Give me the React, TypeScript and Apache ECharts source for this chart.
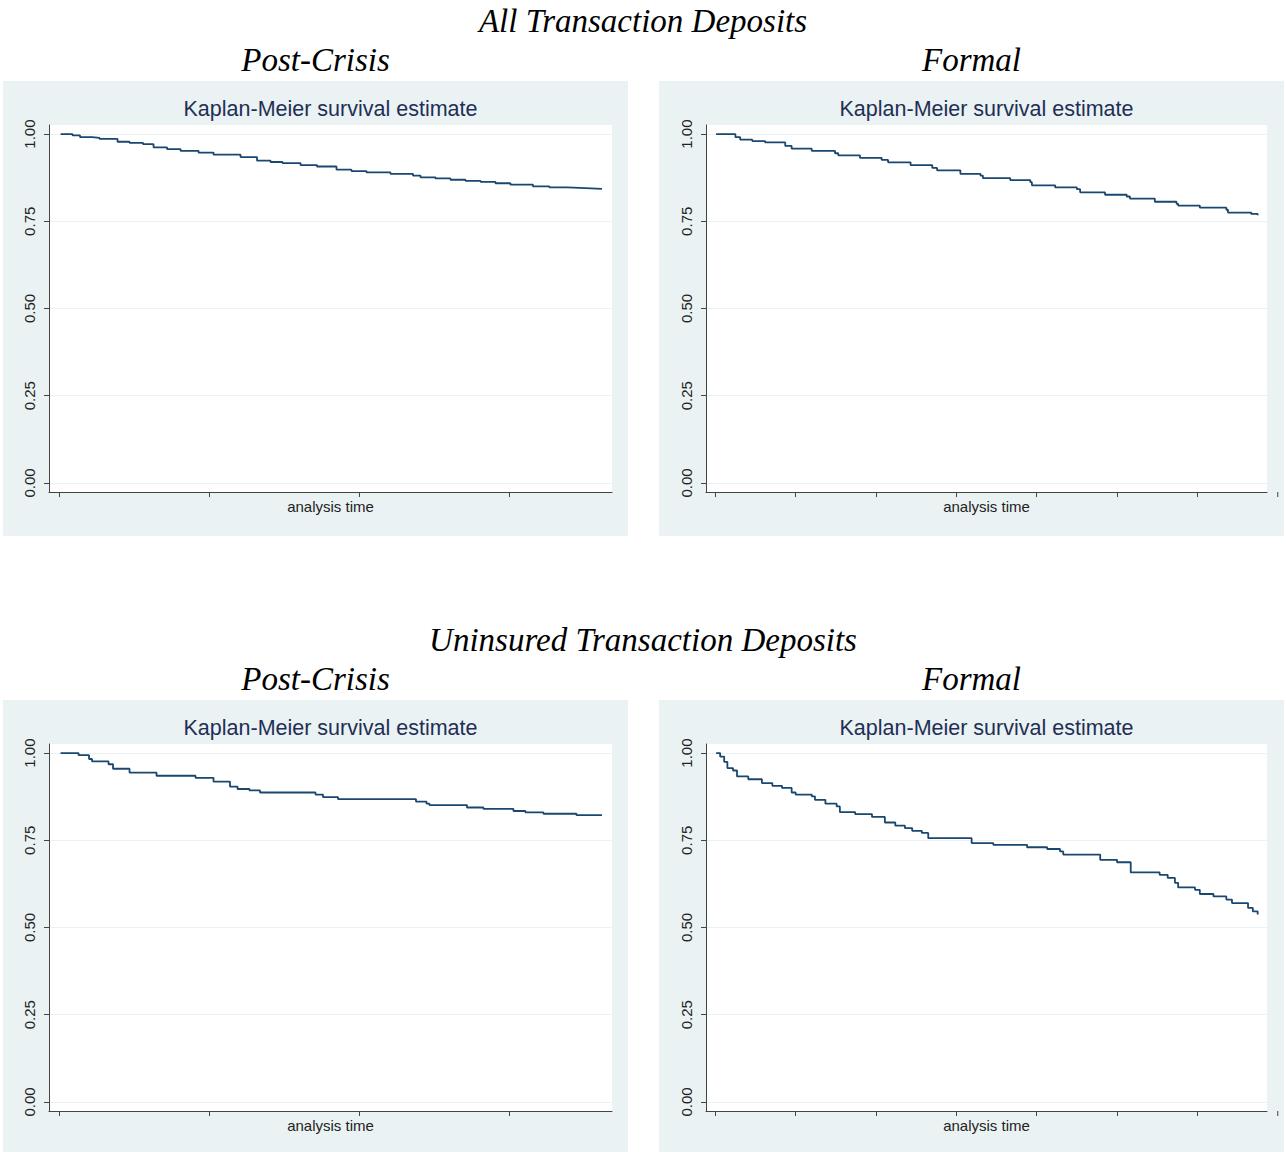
import React, { useEffect, useRef } from "react";
import * as echarts from "echarts";

// ---------- texts ----------
const rowTitles = ["All Transaction Deposits", "Uninsured Transaction Deposits"];
const colTitles = ["Post-Crisis", "Formal"];
const panelTitle = "Kaplan-Meier survival estimate";
const xAxisName = "analysis time";

// ---------- ticks ----------
const yTicks = [0, 0.25, 0.5, 0.75, 1];
const postCrisisTicks = [0, 100, 200, 300];
const formalTicks = [0, 100, 200, 300, 400, 500, 600, 700];

// ---------- data (analysis time, survival) ----------
const allPostTime = [1, 9, 14, 22, 27, 39, 47, 56, 63, 72, 81, 93, 103, 121, 132, 141, 149, 161, 172, 185, 195, 205, 221, 236, 241, 251, 261, 271, 281, 291, 301, 316, 327, 339, 351, 362];
const allPostSurv = [1.0, 0.996, 0.991, 0.989, 0.986, 0.978, 0.975, 0.971, 0.962, 0.957, 0.952, 0.947, 0.941, 0.934, 0.924, 0.92, 0.917, 0.911, 0.907, 0.898, 0.894, 0.89, 0.886, 0.881, 0.876, 0.873, 0.869, 0.866, 0.863, 0.859, 0.855, 0.85, 0.847, 0.845, 0.843, 0.842];

const allFormalTime = [1, 25, 31, 46, 62, 87, 95, 120, 149, 153, 180, 207, 215, 243, 270, 276, 305, 330, 333, 367, 392, 394, 423, 450, 454, 485, 512, 516, 547, 574, 576, 603, 636, 638, 667, 675];
const allFormalSurv = [1.0, 0.991, 0.984, 0.98, 0.976, 0.966, 0.958, 0.952, 0.945, 0.939, 0.932, 0.926, 0.919, 0.911, 0.903, 0.896, 0.886, 0.881, 0.874, 0.868, 0.862, 0.853, 0.847, 0.842, 0.833, 0.826, 0.821, 0.815, 0.806, 0.8, 0.795, 0.789, 0.783, 0.775, 0.771, 0.767];

const uninsPostTime = [1, 13, 20, 22, 33, 36, 47, 65, 91, 103, 114, 119, 127, 134, 171, 176, 186, 238, 245, 247, 272, 283, 303, 311, 323, 345, 362];
const uninsPostSurv = [1.0, 0.994, 0.983, 0.976, 0.968, 0.955, 0.944, 0.935, 0.929, 0.918, 0.904, 0.897, 0.893, 0.887, 0.881, 0.874, 0.868, 0.861, 0.855, 0.851, 0.844, 0.84, 0.834, 0.83, 0.826, 0.822, 0.822];

const uninsFormalTime = [1, 6, 11, 15, 22, 27, 41, 58, 71, 83, 95, 100, 120, 124, 137, 151, 155, 174, 195, 211, 224, 236, 245, 257, 265, 319, 346, 388, 413, 429, 433, 479, 500, 517, 553, 563, 572, 576, 597, 603, 620, 636, 643, 663, 669, 675];
const uninsFormalSurv = [1.0, 0.99, 0.975, 0.957, 0.95, 0.933, 0.925, 0.914, 0.906, 0.9, 0.887, 0.881, 0.876, 0.866, 0.855, 0.847, 0.831, 0.825, 0.817, 0.801, 0.792, 0.785, 0.777, 0.771, 0.756, 0.742, 0.737, 0.73, 0.725, 0.718, 0.709, 0.694, 0.687, 0.658, 0.651, 0.642, 0.628, 0.615, 0.608, 0.596, 0.589, 0.58, 0.57, 0.556, 0.546, 0.537];

// ---------- layout / style ----------
const W = 1286;
const H = 1152;
const BG = "#eaf2f3";
const LINE = "#1a476f";
const AXIS = "#444444";
const SANS = "'Liberation Sans', Arial, Helvetica, sans-serif";
const SERIF = "'Liberation Serif', 'Times New Roman', serif";
const Y_MIN = -0.026;
const Y_MAX = 1.026;

const panelX = [3, 659];
const panelW = 625;
const rowPanelY = [81, 700];
const panelH = 455;
const gridLeft = [49, 706];
const gridW = [563, 561];
const gridTopRow = [125, 744];
const gridH = 367;

const panels = [
  { row: 0, col: 0, time: allPostTime, surv: allPostSurv, ticks: postCrisisTicks, xMin: -6.7, xMax: 368.7 },
  { row: 0, col: 1, time: allFormalTime, surv: allFormalSurv, ticks: formalTicks, xMin: -11.6, xMax: 686.6 },
  { row: 1, col: 0, time: uninsPostTime, surv: uninsPostSurv, ticks: postCrisisTicks, xMin: -6.7, xMax: 368.7 },
  { row: 1, col: 1, time: uninsFormalTime, surv: uninsFormalSurv, ticks: formalTicks, xMin: -11.6, xMax: 686.6 },
];

export default function App() {
  const ref = useRef<HTMLDivElement>(null);

  useEffect(() => {
    const chart = echarts.init(ref.current as HTMLDivElement, null, { renderer: "svg" });

    const graphics: any[] = [];
    panels.forEach((p, i) => {
      graphics.push({
        type: "rect",
        id: `bg${i}`,
        z: -100,
        shape: { x: panelX[p.col], y: rowPanelY[p.row], width: panelW, height: panelH },
        style: { fill: BG },
        silent: true,
      });
      graphics.push({
        type: "text",
        id: `pt${i}`,
        x: gridLeft[p.col] + gridW[p.col] / 2,
        y: gridTopRow[p.row] - 16,
        style: {
          text: panelTitle,
          fill: "#1f2f55",
          font: `21.5px ${SANS}`,
          align: "center",
          verticalAlign: "middle",
        },
      });
    });
    rowTitles.forEach((t, r) => {
      graphics.push({
        type: "text",
        id: `rt${r}`,
        x: W / 2,
        y: rowPanelY[r] - 60,
        style: { text: t, fill: "#000", font: `italic 33px ${SERIF}`, align: "center", verticalAlign: "middle" },
      });
      colTitles.forEach((c, ci) => {
        graphics.push({
          type: "text",
          id: `ct${r}_${ci}`,
          x: panelX[ci] + panelW / 2,
          y: rowPanelY[r] - 21,
          style: { text: c, fill: "#000", font: `italic 33px ${SERIF}`, align: "center", verticalAlign: "middle" },
        });
      });
    });

    const option: any = {
      animation: false,
      backgroundColor: "#ffffff",
      grid: panels.map((p) => ({
        left: gridLeft[p.col],
        top: gridTopRow[p.row],
        width: gridW[p.col],
        height: gridH,
        show: true,
        backgroundColor: "#ffffff",
        borderWidth: 0,
        containLabel: false,
      })),
      xAxis: panels.map((p, i) => ({
        type: "value",
        gridIndex: i,
        min: p.xMin,
        max: p.xMax,
        name: xAxisName,
        nameLocation: "middle",
        nameGap: 7,
        nameTextStyle: { fontSize: 15, color: "#222", fontFamily: SANS },
        axisLine: { show: true, onZero: false, lineStyle: { color: AXIS, width: 1 } },
        axisTick: { show: true, length: 5, customValues: p.ticks, lineStyle: { color: AXIS } },
        axisLabel: { show: false },
        splitLine: { show: false },
      })),
      yAxis: panels.map((p, i) => ({
        type: "value",
        gridIndex: i,
        min: Y_MIN,
        max: Y_MAX,
        axisLine: { show: true, onZero: false, lineStyle: { color: AXIS, width: 1 } },
        axisTick: { show: true, length: 5, customValues: yTicks, lineStyle: { color: AXIS } },
        axisLabel: {
          show: true,
          customValues: yTicks,
          rotate: 90,
          margin: 12,
          fontSize: 15,
          color: "#222",
          fontFamily: SANS,
          formatter: (v: number) => v.toFixed(2),
        },
        splitLine: { show: true, lineStyle: { color: BG, width: 1 } },
      })),
      series: panels.map((p, i) => ({
        type: "line",
        xAxisIndex: i,
        yAxisIndex: i,
        step: "end",
        showSymbol: false,
        symbol: "none",
        lineStyle: { color: LINE, width: 1.8 },
        data: p.time.map((t, k) => [t, p.surv[k]]),
      })),
      graphic: graphics,
    };

    chart.setOption(option);

    // ticks that the original draws beyond the end of the axis
    const extra: any[] = [];
    panels.forEach((p, i) => {
      p.ticks.forEach((t) => {
        if (t > p.xMax) {
          const x = chart.convertToPixel({ xAxisIndex: i } as any, t) as number;
          const y = chart.convertToPixel({ yAxisIndex: i } as any, Y_MIN) as number;
          extra.push({
            type: "line",
            id: `xt${i}_${t}`,
            shape: { x1: x, y1: y, x2: x, y2: y + 5 },
            style: { stroke: AXIS, lineWidth: 1 },
          });
        }
      });
    });
    if (extra.length) chart.setOption({ graphic: graphics.concat(extra) });

    return () => {
      chart.dispose();
    };
  }, []);

  return (
    <div
      ref={ref}
      style={{ position: "absolute", left: 0, top: 0, width: W, height: H }}
    />
  );
}
